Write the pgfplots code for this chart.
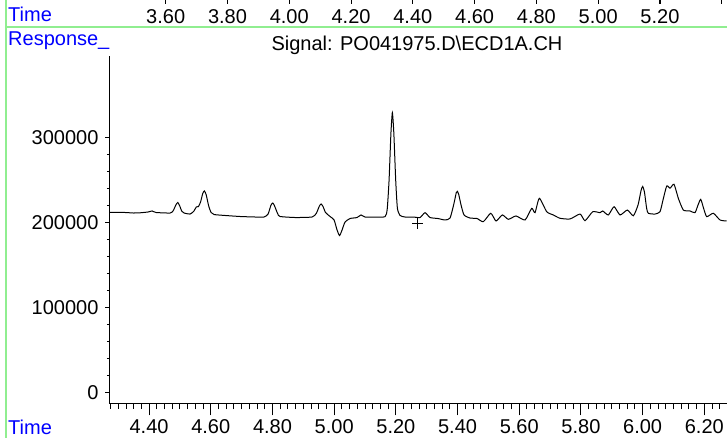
\documentclass[border=0pt]{standalone}
\usepackage{pgfplots}
\pgfplotsset{compat=1.18}
\usepackage{fontspec}
\setmainfont{Liberation Sans}
\definecolor{gline}{RGB}{144,238,144}
\definecolor{tblue}{RGB}{0,0,255}
\begin{document}
\fontsize{20pt}{24pt}\selectfont
\begin{tikzpicture}[x=1pt,y=1pt]
\useasboundingbox (0,0) rectangle (727,438);
\fill[white] (0,0) rectangle (727,438);
\draw[gline, line width=2pt] (5.7,0) -- (5.7,438);
\draw[gline, line width=2pt] (5.7,411) -- (727,411);
\node[anchor=west, text=tblue, inner sep=0] at (8,424) {Time};
\node[anchor=west, text=tblue, inner sep=0] at (8,397) {Response\_};
\node[anchor=west, text=tblue, inner sep=0] at (8,11) {Time};
\node[inner sep=0] at (417,393) {Signal: PO041975.D\textbackslash ECD1A.CH};
% top axis (from the panel above)
\begin{axis}[
  scale only axis, width=617.7pt, height=10pt,
  at={(109.3pt,446pt)}, anchor=south west,
  axis line style={draw=none},
  xtick pos=bottom, ytick=\empty,
  xmin=3.4174, xmax=5.4171, ymin=0, ymax=1,
  xtick={3.6,3.8,4.0,4.2,4.4,4.6,4.8,5.0,5.2,5.4},
  xticklabels={3.60,3.80,4.00,4.20,4.40,4.60,4.80,5.00,5.20,},
  tick align=outside, major tick length=12pt,
  major tick style={draw=black, line width=0.8pt},
  xticklabel style={font=\fontsize{20pt}{24pt}\selectfont, yshift=1pt},
  clip=false,
]
\addplot[draw=none] coordinates {(4,0.5)};
\pgfplotsinvokeforeach{3.6,3.8,4.0,4.2,4.4,4.6,4.8,5.0,5.2,5.4}{
  \draw[black, line width=0.9pt] (axis cs:#1,0) -- ++(0pt,-12pt);
}
\end{axis}
% y ticks of the main axis
\begin{axis}[
  scale only axis, width=617.7pt, height=347.3pt,
  at={(109.3pt,34.7pt)}, anchor=south west,
  axis y line=left, axis x line=none, xtick=\empty,
  y axis line style={-, line width=1pt},
  xmin=4.271, xmax=6.2736, ymin=-12470, ymax=396130,
  scaled y ticks=false,
  ytick={0,100000,200000,300000},
  yticklabels={0,100000,200000,300000},
  minor y tick num=4,
  tick align=outside, major tick length=4pt, minor tick length=2.5pt,
  major tick style={black, line width=0.8pt},
  minor tick style={black, line width=0.8pt},
  yticklabel style={font=\fontsize{20pt}{24pt}\selectfont},
]
\addplot[draw=none] coordinates {(5,100000)};
\end{axis}
% main axis
\begin{axis}[
  scale only axis, width=617.7pt, height=347.3pt,
  at={(109.3pt,34.7pt)}, anchor=south west,
  axis line style={draw=none},
  xtick pos=bottom, ytick=\empty,
  xmin=4.271, xmax=6.2736, ymin=-12470, ymax=396130,
  xtick={4.4,4.6,4.8,5.0,5.2,5.4,5.6,5.8,6.0,6.2},
  xticklabels={4.40,4.60,4.80,5.00,5.20,5.40,5.60,5.80,6.00,6.20},
  minor x tick num=7,
  tick align=outside, major tick length=12pt, minor tick length=6pt,
  major tick style={draw=black, line width=0.9pt},
  minor tick style={draw=black, line width=0.9pt},
  xticklabel style={font=\fontsize{20pt}{24pt}\selectfont, yshift=3pt},
  clip=false,
]
\draw[black, line width=1pt] (rel axis cs:0,0) -- (rel axis cs:1,0);
\pgfplotsinvokeforeach{4.4,4.6,4.8,5.0,5.2,5.4,5.6,5.8,6.0,6.2}{
  \draw[black, line width=0.9pt] (axis cs:#1,-12470) -- ++(0pt,-12pt);
}
\pgfplotsinvokeforeach{4.275,4.3,4.325,4.35,4.375,
4.425,4.45,4.475,4.5,4.525,4.55,4.575,
4.625,4.65,4.675,4.7,4.725,4.75,4.775,
4.825,4.85,4.875,4.9,4.925,4.95,4.975,
5.025,5.05,5.075,5.1,5.125,5.15,5.175,
5.225,5.25,5.275,5.3,5.325,5.35,5.375,
5.425,5.45,5.475,5.5,5.525,5.55,5.575,
5.625,5.65,5.675,5.7,5.725,5.75,5.775,
5.825,5.85,5.875,5.9,5.925,5.95,5.975,
6.025,6.05,6.075,6.1,6.125,6.15,6.175,
6.225,6.25}{
  \draw[black, line width=0.9pt] (axis cs:#1,-12470) -- ++(0pt,-6pt);
}
\addplot[black, line width=1pt, smooth, tension=0.35] coordinates {
(4.2736,212200) (4.3222,212000) (4.3500,211400) (4.3708,211650) (4.3968,212600) (4.4097,213800)
(4.4227,212000) (4.4681,211400) (4.4780,214000) (4.4870,221000) (4.4930,223800) (4.4990,220000) (4.5060,213500)
(4.5135,211400) (4.5329,210200) (4.5450,213500) (4.5530,218500) (4.5600,219000) (4.5670,224500)
(4.5740,234500) (4.5793,237300) (4.5850,233000) (4.5930,220000) (4.6010,212000) (4.6107,209600) (4.6464,208500)
(4.6950,207300) (4.7436,206700) (4.7728,206700) (4.7857,210200) (4.7950,220500) (4.8010,223200) (4.8070,219500)
(4.8170,210500) (4.8246,207300) (4.8733,206100) (4.9284,206700) (4.9420,211000)
(4.9520,219500) (4.9575,222000) (4.9640,219000) (4.9720,212000) (4.9867,207300) (4.9997,203200) (5.0094,191400)
(5.0175,184900) (5.0256,191400) (5.0353,200800) (5.0515,204900) (5.0742,206100)
(5.0872,209100) (5.1002,206700) (5.1326,206700) (5.1650,207100) (5.1720,216000) (5.1780,250000)
(5.1840,305000) (5.1887,329400) (5.1935,305000) (5.1995,250000) (5.2050,217000) (5.2136,208500)
(5.2298,206700) (5.2558,206700) (5.2784,206100) (5.2946,211800) (5.3108,206100)
(5.3368,204900) (5.3595,203200) (5.3757,205500) (5.3880,222000) (5.3960,235500) (5.3994,236900) (5.4040,233000)
(5.4114,220800) (5.4211,209100) (5.4405,205500) (5.4632,204900) (5.4836,201200)
(5.5076,211100) (5.5248,202000) (5.5452,209100) (5.5647,204000) (5.5896,207900)
(5.6188,203200) (5.6405,216900) (5.6512,211800) (5.6652,228700) (5.6891,212900)
(5.7105,209100) (5.7323,205200) (5.7647,204400) (5.7971,210200) (5.8133,202400)
(5.8383,212900) (5.8619,211800) (5.8707,213800) (5.8888,209100) (5.9073,218800)
(5.9268,209100) (5.9504,214900) (5.9699,208200) (5.9851,220800) (5.9950,238000) (6.0003,242600) (6.0060,236000)
(6.0130,217000) (6.0185,211100) (6.0402,210200) (6.0564,212900) (6.0661,226700)
(6.0781,243200) (6.0888,240500) (6.1018,245200) (6.1158,228700) (6.1320,214900)
(6.1537,213800) (6.1698,211800) (6.1796,220800) (6.1884,227500) (6.1974,217300)
(6.2078,207100) (6.2292,211100) (6.2509,203200) (6.2726,202000)
};
\addplot[black, only marks, mark=+, mark size=5.5pt, line width=1.3pt] coordinates {(5.2703,199000)};
\end{axis}
\end{tikzpicture}
\end{document}
